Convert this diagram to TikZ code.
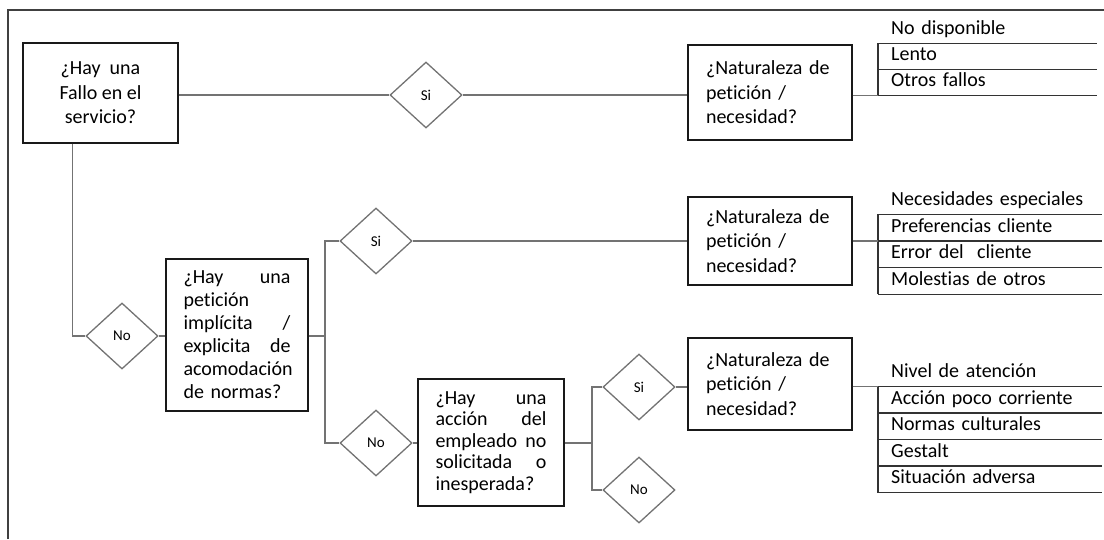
\documentclass[tikz,border=0pt]{standalone}
\usepackage{fontspec}
\setmainfont{Carlito}[Ligatures={NoCommon}]
\usetikzlibrary{shapes.geometric,calc}
\begin{document}
\begin{tikzpicture}[x=1pt,y=-1pt,
  conn/.style={draw=black!55, line width=1.4pt},
  boxq/.style={draw=black!90, line width=1.3pt, rectangle, inner sep=0pt},
  qfont/.style={font=\fontsize{20pt}{24.5pt}\selectfont},
  dia/.style={diamond, draw=black!55, line width=1.3pt, minimum width=72pt, minimum height=66pt, inner sep=0pt, font=\fontsize{15pt}{18pt}\selectfont},
  row/.style={anchor=north west, inner xsep=13pt, inner ysep=0pt, text height=14pt, text depth=5pt, align=left, font=\fontsize{20pt}{24pt}\selectfont},
  rowa/.style={row, minimum height=26pt, text width=193pt},
  rowb/.style={row, minimum height=26.6pt, text width=198pt},
  rule/.style={draw=black!80, line width=1.3pt},
  frame/.style={draw=black!75, line width=2pt}]
\useasboundingbox (0,0) rectangle (1104,539);
% frame
\coordinate (fa) at (8,539);
\coordinate (fb) at (8,10);
\coordinate (fc) at (1104,10);
\draw[frame] (fa) -- (fb) -- (fc);

% question boxes
\node[boxq, qfont, minimum width=155pt, minimum height=100pt, align=center] (b1) at (100.5,93) {¿Hay\ \ una\\Fallo en el\\servicio?};
\node[boxq, qfont, minimum width=164pt, minimum height=95pt, text width=128pt, align=left] (n1) at (770,92.5) {¿Naturaleza de\\petición /\\necesidad?};
\node[boxq, qfont, minimum width=164pt, minimum height=88pt, text width=128pt, align=left] (n2) at (770,241) {¿Naturaleza de\\petición /\\necesidad?};
\node[boxq, qfont, minimum width=164pt, minimum height=92pt, text width=128pt, align=left] (n3) at (770,384) {¿Naturaleza de\\petición /\\necesidad?};
\node[boxq, font=\fontsize{20pt}{23pt}\selectfont, minimum width=142pt, minimum height=152pt, text width=107pt, align=left] (b2) at (237,335) {¿Hay\hfill una\\petición\\implícita\hfill /\\explicita\hfill de\\acomodación\\de normas?};
\node[boxq, font=\fontsize{20pt}{21.5pt}\selectfont, minimum width=146pt, minimum height=127pt, text width=111pt, align=left] (b3) at (491,442.5) {¿Hay\hfill una\\acción\hfill del\\empleado\hfill no\\solicitada\hfill o\\inesperada?};

% diamonds
\node[dia] (s1) at (426,95) {Si};
\node[dia] (no1) at (122,336) {No};
\node[dia] (si2) at (376,241) {Si};
\node[dia] (no2) at (376,443) {No};
\node[dia] (si3) at (639,387) {Si};
\node[dia] (no3) at (639,490) {No};

% lists
\node[rowa] (l1a) at (878,17) {No disponible};
\node[rowa] (l1b) at (878,43) {Lento};
\node[rowa] (l1c) at (878,69) {Otros fallos};

\node[rowb] (l2a) at (878,187.4) {Necesidades especiales};
\node[rowb] (l2b) at (878,214) {Preferencias cliente};
\node[rowb] (l2c) at (878,240.6) {Error del\ \ cliente};
\node[rowb] (l2d) at (878,267.2) {Molestias de otros};

\node[rowb] (l3a) at (878,359.5) {Nivel de atención};
\node[rowb] (l3b) at (878,386) {Acción poco corriente};
\node[rowb] (l3c) at (878,412.5) {Normas culturales};
\node[rowb] (l3d) at (878,439) {Gestalt};
\node[rowb] (l3e) at (878,465.5) {Situación adversa};

\foreach \r in {l1a,l1b,l1c,l2a,l2b,l2c,l2d,l3a,l3b,l3c,l3d,l3e}
  \draw[rule] (\r.south west) -- (\r.south east);
\draw[rule] (l1b.north west) -- (l1c.south west);
\draw[rule] (l2b.north west) -- (l2d.south west);
\draw[rule] (l3b.north west) -- (l3e.south west);

% connectors
\draw[conn] (b1.east |- s1.west) -- (s1.west);
\draw[conn] (s1.east) -- (s1.east -| n1.west);
\draw[conn] (n1.east |- l1c.south west) -- (l1c.south west);
\draw[conn] ([xshift=50pt]b1.south west) |- (no1.west);
\draw[conn] (no1.east) -- (no1.east -| b2.west);
\coordinate (f1) at (325,336);
\draw[conn] (b2.east |- f1) -- (f1);
\draw[conn] (si2.west) -| (f1) |- (no2.west);
\draw[conn] (si2.east) -- (si2.east -| n2.west);
\draw[conn] (n2.east |- l2b.south west) -- (l2b.south west);
\draw[conn] (no2.east) -- (no2.east -| b3.west);
\coordinate (f2) at (592,443);
\draw[conn] (b3.east |- f2) -- (f2);
\draw[conn] (si3.west) -| (f2) |- (no3.west);
\draw[conn] (si3.east) -- (si3.east -| n3.west);
\draw[conn] (n3.east |- l3a.south west) -- (l3a.south west);
\end{tikzpicture}
\end{document}
